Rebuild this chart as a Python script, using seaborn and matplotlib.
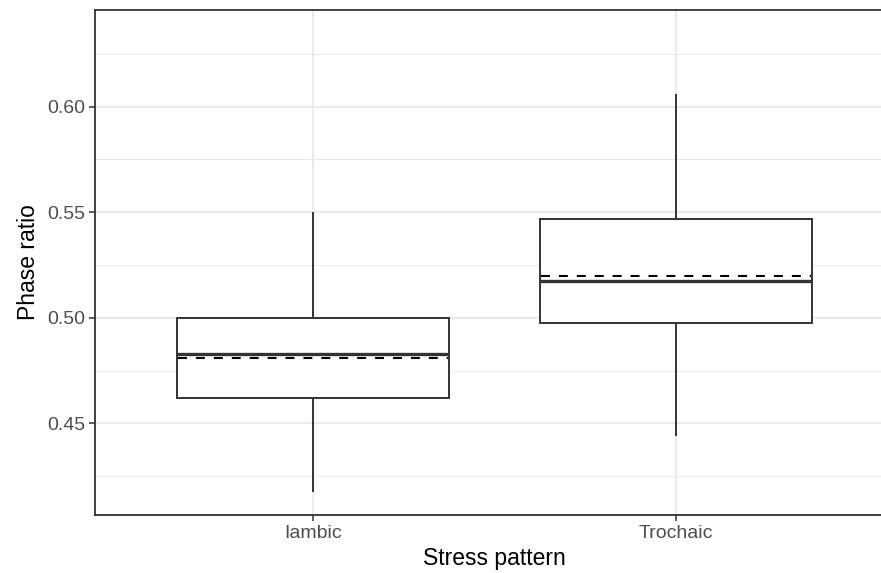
import numpy as np
import pandas as pd
import matplotlib
matplotlib.use("Agg")
import matplotlib.pyplot as plt
import seaborn as sns
from matplotlib.ticker import MultipleLocator

categories = ["Iambic", "Trochaic"]
whisker_low = [0.4176, 0.4440]
q1 = [0.4619, 0.4974]
median = [0.4828, 0.5174]
q3 = [0.5001, 0.5467]
whisker_high = [0.5500, 0.6060]
means = [0.4811, 0.5197]

rows = []
for i, c in enumerate(categories):
    for v in (whisker_low[i], q1[i], median[i], q3[i], whisker_high[i]):
        rows.append({"Stress pattern": c, "Phase ratio": v})
df = pd.DataFrame(rows)

sns.set_theme(style="white")
plt.rcParams["font.family"] = ["Liberation Sans", "DejaVu Sans"]

fig = plt.figure(figsize=(8.81, 5.73), dpi=100)
W, H = 881, 573
left, right, top, bottom = 95, 893.7, 10, 515
ax = fig.add_axes([left / W, (H - bottom) / H, (right - left) / W, (bottom - top) / H])

dark = "#333333"
box_w = 0.75
sns.boxplot(data=df, x="Stress pattern", y="Phase ratio", order=categories,
            whis=np.inf, width=box_w, color="white", linecolor=dark,
            linewidth=1.4, showcaps=False,
            medianprops=dict(linewidth=2.4, color=dark),
            ax=ax, zorder=3)

xs = np.arange(len(categories))
ax.hlines(means, xs - box_w / 2 + 0.004, xs + box_w / 2 - 0.004, colors="black",
          linestyles=(0, (4.3, 4.3)), linewidth=1.5, zorder=4)

ax.set_xlim(-0.6, 1.6)
ax.set_ylim(0.4066, 0.6458)
ax.yaxis.set_major_locator(MultipleLocator(0.05))
ax.yaxis.set_minor_locator(MultipleLocator(0.025))
ax.set_yticks([0.45, 0.50, 0.55, 0.60])
ax.set_yticklabels(["0.45", "0.50", "0.55", "0.60"])

ax.set_axisbelow(True)
ax.grid(True, which="major", color="#EBEBEB", linewidth=1.5)
ax.grid(True, which="minor", axis="y", color="#EBEBEB", linewidth=0.8)
ax.tick_params(axis="both", which="major", length=4, width=1.1, color=dark,
               labelsize=14, labelcolor="#4D4D4D", pad=3, left=True, bottom=True)
ax.tick_params(axis="y", which="minor", length=0)
for s in ax.spines.values():
    s.set_color(dark)
    s.set_linewidth(1.3)
    s.set_visible(True)

ax.set_xlabel("Stress pattern", fontsize=16.5, color="black", labelpad=4)
ax.set_ylabel("Phase ratio", fontsize=16.5, color="black", labelpad=5)

fig.savefig("out.png", dpi=100)
